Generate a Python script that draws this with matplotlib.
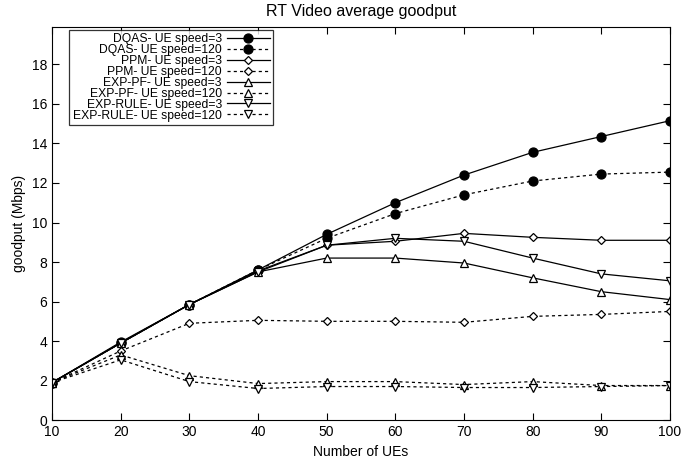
import matplotlib
matplotlib.use('Agg')
import matplotlib.pyplot as plt

plt.rcParams['font.family'] = ['Liberation Sans', 'DejaVu Sans']

ues = [10, 20, 30, 40, 50, 60, 70, 80, 90, 100]

dqas_3 = [1.9, 3.95, 5.85, 7.6, 9.4, 11.0, 12.4, 13.55, 14.35, 15.15]
dqas_120 = [1.9, 3.9, 5.85, 7.6, 9.2, 10.45, 11.4, 12.1, 12.45, 12.55]
ppm_3 = [1.9, 3.9, 5.85, 7.55, 8.85, 9.05, 9.45, 9.25, 9.1, 9.1]
ppm_120 = [1.9, 3.5, 4.9, 5.05, 5.0, 5.0, 4.95, 5.25, 5.35, 5.5]
pf_3 = [1.9, 3.9, 5.85, 7.5, 8.2, 8.2, 7.95, 7.2, 6.5, 6.1]
pf_120 = [1.9, 3.3, 2.25, 1.85, 1.95, 1.95, 1.8, 1.95, 1.75, 1.75]
rule_3 = [1.9, 3.9, 5.85, 7.5, 8.85, 9.2, 9.05, 8.2, 7.4, 7.05]
rule_120 = [1.9, 3.05, 1.95, 1.6, 1.7, 1.7, 1.65, 1.65, 1.7, 1.75]

series = [
    ('DQAS- UE speed=3', dqas_3, '-', 'o', 'black'),
    ('DQAS- UE speed=120', dqas_120, '--', 'o', 'black'),
    ('PPM- UE speed=3', ppm_3, '-', 'D', 'white'),
    ('PPM- UE speed=120', ppm_120, '--', 'D', 'white'),
    ('EXP-PF- UE speed=3', pf_3, '-', '^', 'white'),
    ('EXP-PF- UE speed=120', pf_120, '--', '^', 'white'),
    ('EXP-RULE- UE speed=3', rule_3, '-', 'v', 'white'),
    ('EXP-RULE- UE speed=120', rule_120, '--', 'v', 'white'),
]

fig = plt.figure(figsize=(6.85, 4.71), dpi=100)
ax = fig.add_axes([0.076, 0.108, 0.902, 0.835])

for label, vals, ls, mk, fc in series:
    ms = {'o': 6.5, 'D': 4.5, '^': 6, 'v': 6}[mk]
    ax.plot(ues, vals, linestyle=ls, marker=mk, color='black', markerfacecolor=fc,
            markeredgecolor='black', markersize=ms, linewidth=0.9,
            markeredgewidth=0.9, dashes=(2.5, 2.5) if ls == '--' else (None, None),
            label=label)

ax.set_xlim(10, 100)
ax.set_ylim(0, 19.9)
ax.set_xticks(ues)
ax.set_yticks(range(0, 19, 2))
ax.tick_params(direction='in', top=True, right=True, labelsize=10, length=5)
ax.set_xlabel('Number of UEs', fontsize=10)
ax.set_ylabel('goodput (Mbps)', fontsize=10)
ax.set_title('RT Video average goodput', fontsize=11.5, pad=8)

leg = ax.legend(loc='upper left', markerfirst=False, fontsize=8.7, frameon=True,
                fancybox=False, edgecolor='black', handlelength=3.5,
                labelspacing=-0.09, borderpad=0.3, handletextpad=0.45,
                borderaxespad=0, bbox_to_anchor=(0.028, 0.993))
leg.get_frame().set_linewidth(0.9)
for t in leg.get_texts():
    t.set_ha('right')
leg._legend_box.align = 'right'

fig.savefig('out.png', dpi=100)
